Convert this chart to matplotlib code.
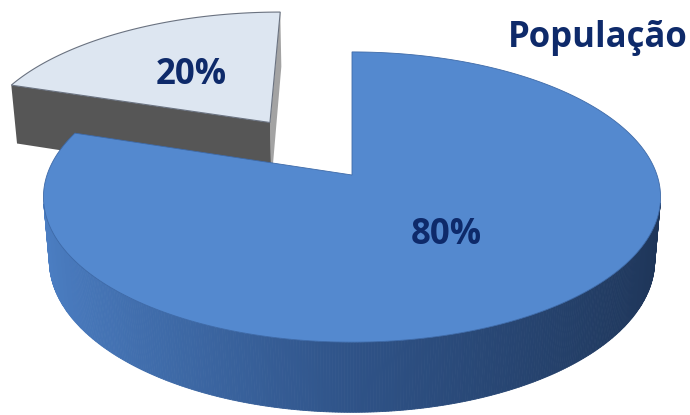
"""3D-style pie chart: População (80% / 20%)."""
import matplotlib

matplotlib.use("Agg")

import matplotlib.pyplot as plt  # noqa: E402
import numpy as np  # noqa: E402
from matplotlib.colors import LinearSegmentedColormap  # noqa: E402
from matplotlib.patches import Polygon  # noqa: E402

# ---------------------------------------------------------------------------
# Data
# ---------------------------------------------------------------------------
TITLE = "População"
SHARES = [80, 20]
LABELS = ["80%", "20%"]
EXPLODE = [0.0, 0.485]

# ---------------------------------------------------------------------------
# Style / view
# ---------------------------------------------------------------------------
TOP_COLORS = ["#5489cf", "#dde6f1"]
TEXT_COLOR = "#0e2a6a"
SIDE_CMAP = LinearSegmentedColormap.from_list(
    "side", ["#4c7fc4", "#2f5388", "#1e3558"]
)
GREY_FRONT = "#565656"
GREY_SIDE = "#a3a3a3"

ELEV = np.radians(27.7)
DIST = 5.83
SCALE = 1778.0
CX, CY = 352.0, 175.0
HEIGHT = 0.237
START = 90.0

S, C = np.sin(ELEV), np.cos(ELEV)


def proj(x, y, z):
    x, y, z = np.asarray(x, float), np.asarray(y, float), np.asarray(z, float)
    depth = DIST - y * S + z * C
    up = y * C + z * S
    return CX + SCALE * x / depth, CY - SCALE * up / depth


def ring(theta, off, y=0.0):
    return np.cos(theta) + off[0], np.full_like(theta, y), np.sin(theta) + off[1]


def quad(p0, p1, y0, y1):
    xs, ys = proj([p0[0], p1[0], p1[0], p0[0]], [y0, y0, y1, y1],
                  [p0[1], p1[1], p1[1], p0[1]])
    return np.column_stack([xs, ys])


fig = plt.figure(figsize=(6.9, 4.15), dpi=100)
ax = fig.add_axes([0, 0, 1, 1])
ax.set_xlim(0, 690)
ax.set_ylim(415, 0)
ax.axis("off")

# slice angles (clockwise from 12 o'clock)
bounds = []
a0 = START
for share in SHARES:
    a1 = a0 - 360.0 * share / 100.0
    bounds.append((a1, a0))
    a0 = a1

offsets = []
for (a1, a0), ex in zip(bounds, EXPLODE):
    mid = np.radians((a0 + a1) / 2)
    offsets.append((ex * np.cos(mid), ex * np.sin(mid)))

# --- exploded 20% slice (behind) ---
(a1, a0), off = bounds[1], offsets[1]
ctr = off
edge_lo = (np.cos(np.radians(a0)) + off[0], np.sin(np.radians(a0)) + off[1])
edge_hi = (np.cos(np.radians(a1)) + off[0], np.sin(np.radians(a1)) + off[1])
ax.add_patch(Polygon(quad(ctr, edge_hi, 0, -HEIGHT), closed=True,
                     fc=GREY_SIDE, ec="none", zorder=1))
ax.add_patch(Polygon(quad(edge_lo, ctr, 0, -HEIGHT), closed=True,
                     fc=GREY_FRONT, ec="none", zorder=2))
th = np.radians(np.linspace(a1, a0, 80))
xs, ys = proj(*ring(th, off))
cx0, cy0 = proj(ctr[0], 0, ctr[1])
ax.add_patch(Polygon(np.column_stack([np.r_[cx0, xs], np.r_[cy0, ys]]),
                     closed=True, fc=TOP_COLORS[1], ec="#6a7280", lw=0.8,
                     zorder=3))

# --- main 80% slice ---
(a1, a0), off = bounds[0], offsets[0]
th = np.radians(np.linspace(a1, a0, 600)) % (2 * np.pi)
limit = -1.0 / (DIST * C)
for t0, t1 in zip(th[:-1], th[1:]):
    if abs(t1 - t0) > 0.1 or np.sin((t0 + t1) / 2) >= limit:
        continue
    p0 = (np.cos(t0) + off[0], np.sin(t0) + off[1])
    p1 = (np.cos(t1) + off[0], np.sin(t1) + off[1])
    shade = SIDE_CMAP((np.cos((t0 + t1) / 2) + 1) / 2)
    ax.add_patch(Polygon(quad(p0, p1, 0, -HEIGHT), closed=True,
                         fc=shade, ec=shade, lw=0.6, zorder=4))

th = np.radians(np.linspace(a1, a0, 400))
xs, ys = proj(*ring(th, off))
cx0, cy0 = proj(off[0], 0, off[1])
ax.add_patch(Polygon(np.column_stack([np.r_[cx0, xs], np.r_[cy0, ys]]),
                     closed=True, fc=TOP_COLORS[0], ec="#3e6aa8", lw=0.6,
                     zorder=5))

# --- labels ---
label_pos = [(0.29, -0.40), (-0.59, 0.79)]
for lab, (lx, lz) in zip(LABELS, label_pos):
    px, py = proj(lx, 0, lz)
    ax.text(px, py, lab, ha="center", va="center", fontsize=25,
            fontweight="bold", family="Open Sans", color=TEXT_COLOR, zorder=6)

ax.text(688, 47, TITLE, ha="right", va="baseline", fontsize=25,
        fontweight="bold", family="Open Sans", color=TEXT_COLOR, zorder=6)

fig.savefig("out.png", dpi=100, facecolor="white")
